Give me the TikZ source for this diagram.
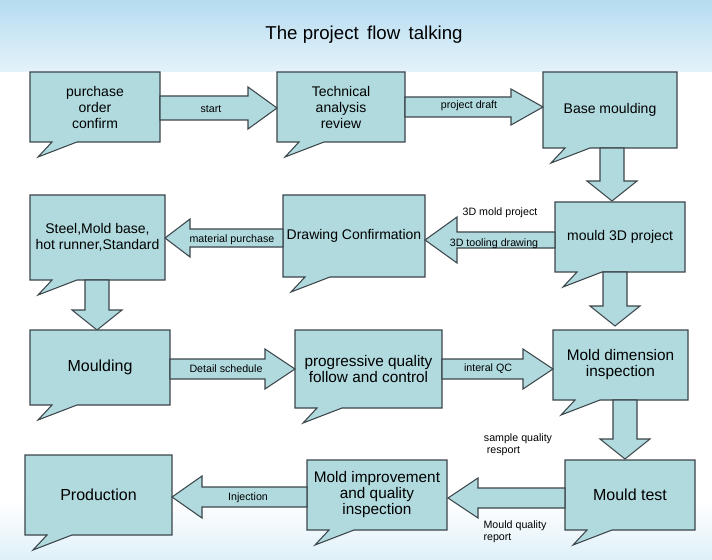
\documentclass[tikz,border=0pt]{standalone}
\usepackage{fontspec}
\setmainfont{Liberation Sans}
\begin{document}
\definecolor{boxc}{RGB}{176,218,222}
\definecolor{sky}{RGB}{150,205,235}
\definecolor{edge}{RGB}{60,70,75}
\tikzset{box/.style={fill=boxc,draw=edge,line width=0.8pt},
lbl/.style={font=\fontsize{8}{9}\selectfont,align=center},
txt/.style={font=\fontsize{10.5}{12}\selectfont,align=center},
big/.style={font=\fontsize{12}{14}\selectfont}}
% callout: name, l, t, r, b, text
\newcommand\callout[6]{%
 \draw[box] (#2,#3) -- (#4,#3) -- (#4,#5) -- ({#2+47},#5) -- ({#2+8},{#5+15}) -- ({#2+22},#5) -- (#2,#5) -- cycle;
 \node[txt] (#1) at ({(#2+#4)/2},{(#3+#5)/2}) {#6};}
\newcommand\harrow[6]{%
 \draw[box] (#1,{#3-#4}) -- ({#2-#6},{#3-#4}) -- ({#2-#6},{#3-#5}) -- (#2,#3) -- ({#2-#6},{#3+#5}) -- ({#2-#6},{#3+#4}) -- (#1,{#3+#4}) -- cycle;}
\newcommand\larrow[6]{%
 \draw[box] (#1,{#3-#4}) -- ({#2+#6},{#3-#4}) -- ({#2+#6},{#3-#5}) -- (#2,#3) -- ({#2+#6},{#3+#5}) -- ({#2+#6},{#3+#4}) -- (#1,{#3+#4}) -- cycle;}
\newcommand\darrow[3]{% x, y-start, y-tip
 \draw[box] ({#1-12},#2) -- ({#1+12},#2) -- ({#1+12},{#3-20}) -- ({#1+25},{#3-20}) -- (#1,#3) -- ({#1-25},{#3-20}) -- ({#1-12},{#3-20}) -- cycle;}
\begin{tikzpicture}[x=0.75pt,y=-0.75pt]
\useasboundingbox (0,0) rectangle (712,559);
\fill[white] (0,0) rectangle (712,559);
\shade[top color=sky!70, bottom color=sky!25] (0,0) rectangle (712,72);
\shade[top color=white, bottom color=sky!30] (0,500) rectangle (712,559);
\node[font=\fontsize{14}{16}\selectfont] (title) at (364,35) {The project\, flow\, talking};
% row 1
\callout{po}{30}{72}{160}{142}{purchase\\order\\confirm}
\callout{ta}{277}{72}{405}{142}{Technical\\analysis\\review}
\callout{bm}{543}{72}{677}{148}{Base moulding}
\harrow{160}{277}{108}{12}{21}{29}
\node[lbl] (l1) at (211,109) {start};
\harrow{405}{543}{107}{10}{18}{32}
\node[lbl] (l2) at (469,106) {project draft};
\darrow{612}{148}{201}
% row 2
\callout{m3}{555}{202}{685}{272}{mould 3D project}
\callout{dc}{283}{195}{425}{277}{Drawing Confirmation}
\callout{st}{30}{195}{165}{280}{Steel,Mold base,\\hot runner,Standard}
\larrow{555}{425}{240}{8}{23}{32}
\node[lbl] (l3) at (500,213) {3D mold project};
\node[lbl] (l4) at (494,244) {3D tooling drawing};
\larrow{283}{165}{238}{9}{19}{25}
\node[lbl] (l5) at (232,240) {material purchase};
\darrow{615}{272}{326}
\darrow{97}{280}{330}
% row 3
\callout{mo}{30}{330}{170}{405}{\fontsize{12}{14}\selectfont Moulding}
\callout{pq}{295}{330}{442}{408}{\fontsize{11.5}{13}\selectfont progressive quality\\\fontsize{11.5}{13}\selectfont follow and control}
\callout{md}{553}{330}{688}{400}{\fontsize{11.5}{13}\selectfont Mold dimension\\\fontsize{11.5}{13}\selectfont inspection}
\harrow{170}{295}{369}{10}{20}{30}
\node[lbl] (l6) at (226,369) {Detail schedule};
\harrow{442}{553}{369}{10}{20}{30}
\node[lbl] (l7) at (488,369) {interal QC};
\darrow{625}{400}{459}
% row 4
\callout{pr}{25}{455}{172}{535}{\fontsize{12}{14}\selectfont Production}
\callout{mi}{307}{460}{447}{530}{\fontsize{11.5}{13}\selectfont Mold improvement\\\fontsize{11.5}{13}\selectfont and quality\\\fontsize{11.5}{13}\selectfont inspection}
\callout{mt}{565}{460}{695}{530}{\fontsize{12}{14}\selectfont Mould test}
\larrow{565}{448}{498}{10}{20}{30}
\node[lbl,align=left] (l8) at (518,445) {sample quality\\\ resport};
\node[lbl,align=left] (l9) at (515,532) {Mould quality\\report};
\larrow{307}{172}{497}{10}{21}{30}
\node[lbl] (l10) at (248,498) {Injection};
\end{tikzpicture}
\end{document}
